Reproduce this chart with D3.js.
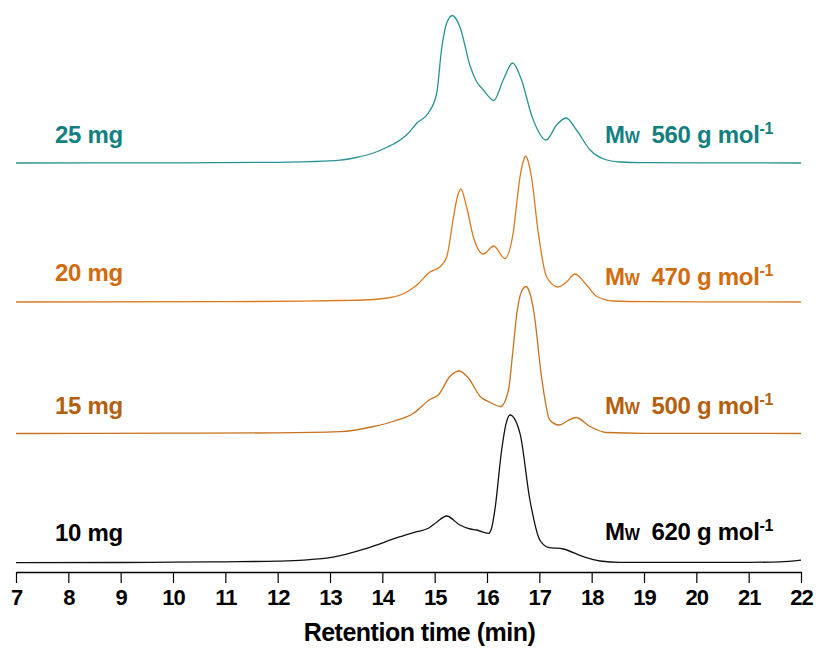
<!DOCTYPE html>
<html>
<head>
<meta charset="utf-8">
<script src="https://cdn.jsdelivr.net/npm/d3@7"></script>
<style>
  html, body { margin: 0; padding: 0; background: #fff; }
  svg { display: block; }
  text { font-family: "Liberation Sans", Arial, Helvetica, sans-serif; font-weight: bold; }
</style>
</head>
<body>
<svg id="chart" width="821" height="649"></svg>
<script>
// GPC chromatograms of the products from four catalyst loadings.
// Each trace: retention time (min) and detector signal (a.u., above its own baseline).
const time10 = [7, 9, 10, 11, 12, 12.5, 13.06, 13.7, 14.34, 14.66, 14.88, 15.05, 15.23, 15.48, 15.68, 15.8, 16.03, 16.09, 16.15, 16.28, 16.36, 16.44, 16.63, 16.82, 17.01, 17.17, 17.46, 17.84, 18.16, 18.54, 21, 21.6, 22];
const signal10 = [0, 0.2, 0.5, 0.9, 1.6, 2.6, 5.5, 14.4, 26, 31, 34.4, 41, 46.7, 37.7, 33.7, 32.7, 29.4, 35, 52.7, 112.7, 138, 147.7, 129.4, 62.7, 22.7, 15.4, 13.7, 6, 1.7, 0.4, 0.4, 0.8, 2.5];

const time15 = [7, 10, 12, 13.19, 13.83, 14.2, 14.59, 14.91, 15.07, 15.29, 15.47, 15.65, 15.87, 16.06, 16.26, 16.41, 16.49, 16.57, 16.66, 16.75, 16.82, 16.89, 17.05, 17.2, 17.38, 17.55, 17.7, 17.97, 18.29, 19, 22];
const signal15 = [0, 0.3, 0.6, 1.8, 7, 12, 20, 34, 38.5, 57, 62.5, 55, 37, 31, 27, 43.5, 80, 120, 142, 147, 140, 123.5, 53.5, 13.5, 8.5, 13, 16, 7, 1, 0.2, 0];

const time20 = [7, 11, 12.5, 13.2, 13.83, 14.1, 14.34, 14.5, 14.66, 14.91, 15.1, 15.23, 15.36, 15.42, 15.5, 15.61, 15.74, 15.93, 16.13, 16.34, 16.5, 16.56, 16.63, 16.69, 16.74, 16.79, 16.85, 16.98, 17.14, 17.36, 17.52, 17.68, 17.87, 18.1, 18.41, 19, 22];
const signal20 = [0, 0.3, 0.8, 1.5, 2.5, 4, 7, 11, 17, 30, 35, 45, 85, 102, 113, 95, 65, 48, 56, 43.5, 69, 95, 125, 140, 146, 140, 125, 69, 25, 15, 20, 28, 19, 5.5, 1, 0.3, 0];

const time25 = [7, 10, 12, 12.6, 13.19, 13.5, 13.83, 14.1, 14.34, 14.5, 14.66, 14.88, 15.04, 15.13, 15.23, 15.34, 15.48, 15.68, 15.8, 15.93, 16.13, 16.31, 16.49, 16.66, 16.86, 17.13, 17.33, 17.51, 17.71, 17.97, 18.29, 18.54, 19, 22];
const signal25 = [0, 0.2, 0.7, 1.3, 2.8, 5.5, 10, 16, 23, 30, 40, 50, 70, 113, 140, 147.5, 136.5, 96.5, 81.5, 73, 62.5, 83, 100, 83, 46.5, 23, 38, 45, 33, 13, 3, 1, 0.3, 0];

// Sample labels, molar masses and vertical offsets of the stacked traces
const samples = ["10 mg", "15 mg", "20 mg", "25 mg"];
const molarMass = [620, 500, 470, 560];
const offsets = [9.3, 138.5, 270, 409];
const lineColors = ["#111111", "#c6721e", "#d97a1f", "#2a9292"];
const textColors = ["#000000", "#b3600f", "#d16b0d", "#138080"];

const xTicks = d3.range(7, 23, 1);

const svg = d3.select("#chart");
const margin = { left: 16, right: 20, top: 12, bottom: 77 };
const width = 821, height = 649;

const x = d3.scaleLinear().domain([7, 22]).range([margin.left, width - margin.right]);
const y = d3.scaleLinear().domain([0, 560]).range([height - margin.bottom, margin.top]);

const series = [
  { t: time10, s: signal10 },
  { t: time15, s: signal15 },
  { t: time20, s: signal20 },
  { t: time25, s: signal25 }
];

const line = d3.line()
  .x(d => x(d[0]))
  .y(d => y(d[1]))
  .curve(d3.curveMonotoneX);

series.forEach((ser, i) => {
  const pts = ser.t.map((t, k) => [t, ser.s[k] + offsets[i]]);
  svg.append("path")
    .attr("d", line(pts))
    .attr("fill", "none")
    .attr("stroke", lineColors[i])
    .attr("stroke-width", 1.3)
    .attr("stroke-linejoin", "round");
});

// Sample labels (left) and weight-average molar masses (right)
const leftBaselines = [541, 414, 281, 143];
const rightBaselines = [540, 414, 285, 143];

samples.forEach((name, i) => {
  svg.append("text")
    .attr("x", 55)
    .attr("y", leftBaselines[i])
    .attr("fill", textColors[i])
    .attr("font-size", 24)
    .attr("letter-spacing", -0.3)
    .text(name);

  const t = svg.append("text")
    .attr("x", 605)
    .attr("y", rightBaselines[i])
    .attr("fill", textColors[i])
    .attr("font-size", 24)
    .attr("letter-spacing", -0.3);
  t.append("tspan").text("M");
  t.append("tspan").attr("font-size", 16).text("W");
  t.append("tspan").attr("dx", 12).text(`${molarMass[i]} g mol`);
  t.append("tspan").attr("font-size", 16).attr("dy", -9).text("-1");
});

// X axis
const axis = d3.axisBottom(x)
  .tickValues(xTicks)
  .tickFormat(d3.format("d"))
  .tickSize(11)
  .tickPadding(6)
  .tickSizeOuter(0);

const gx = svg.append("g")
  .attr("transform", `translate(0,${y(0)})`)
  .call(axis);

gx.select(".domain").attr("stroke", "#000").attr("stroke-width", 1.3);
gx.selectAll(".tick line").attr("stroke", "#000").attr("stroke-width", 1.2);
gx.selectAll(".tick text")
  .attr("fill", "#000")
  .attr("font-size", 22)
  .attr("letter-spacing", -1)
  .style("font-family", '"Liberation Sans", Arial, sans-serif')
  .style("font-weight", "bold");

svg.append("text")
  .attr("x", x(14.5) + 11)
  .attr("y", 641)
  .attr("text-anchor", "middle")
  .attr("font-size", 25)
  .attr("letter-spacing", -0.5)
  .attr("fill", "#000")
  .text("Retention time (min)");
</script>
</body>
</html>
